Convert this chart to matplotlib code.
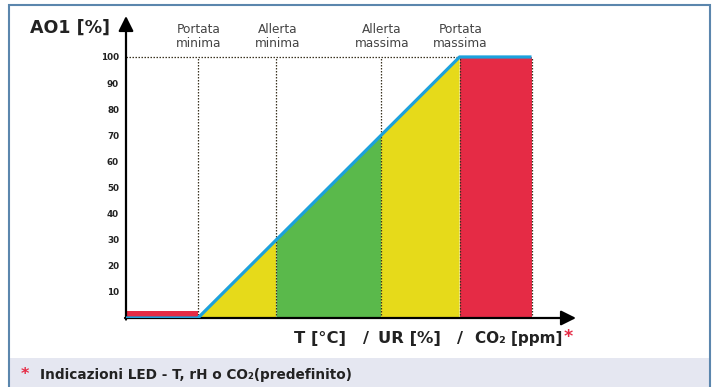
import matplotlib
matplotlib.use("Agg")
import matplotlib.pyplot as plt
from matplotlib.patches import Rectangle

# ---- data ----
y_ticks = [10, 20, 30, 40, 50, 60, 70, 80, 90, 100]
threshold_x = [27.5, 57.5, 97.5, 127.5]          # Portata min, Allerta min, Allerta max, Portata max
threshold_labels = ["Portata\nminima", "Allerta\nminima", "Allerta\nmassima", "Portata\nmassima"]
ao_at_threshold = [0, 30, 70, 100]
end_x = 155
low_bar_height = 2.5
zone_colors = ["#e6da1a", "#5ab94b", "#e6da1a"]
red = "#e52b45"
blue = "#1ca1dc"
dark = "#222222"

W, H = 716, 387
fig = plt.figure(figsize=(W / 100, H / 100), dpi=100)


def fx(px):
    return px / W


def fy(py):
    return 1 - py / H


# outer frame and footer band
fig.patches.append(Rectangle((fx(10), 0), 699 / W, 29 / H, transform=fig.transFigure,
                             facecolor="#e5e7f1", edgecolor="none", zorder=0))
fig.patches.append(Rectangle((fx(9), -0.01), 701 / W, (382 / H) + 0.01, transform=fig.transFigure,
                             facecolor="none", edgecolor="#5b86ad", lw=1.5, zorder=1))

ax = fig.add_axes([126 / W, 69 / H, 450 / W, 302 / H])
ax.set_xlim(0, 172)
ax.set_ylim(0, 115.7)
ax.patch.set_alpha(0)
for s in ax.spines.values():
    s.set_visible(False)

# colored zones under the line
for i in range(3):
    x0, x1 = threshold_x[i], threshold_x[i + 1]
    y0, y1 = ao_at_threshold[i], ao_at_threshold[i + 1]
    ax.fill([x0, x1, x1, x0], [0, 0, y1, y0], color=zone_colors[i], lw=0, zorder=2)
ax.fill([threshold_x[3], end_x, end_x, threshold_x[3]], [0, 0, 100, 100], color=red, lw=0, zorder=2)
ax.fill([0, threshold_x[0], threshold_x[0], 0], [0, 0, low_bar_height, low_bar_height],
        color=red, lw=0, zorder=2)

# dotted guides
dot = dict(color="#3a3320", lw=0.9, ls=(0, (1.2, 1.2)), zorder=3)
ax.plot([0, threshold_x[3]], [100, 100], **dot)
for x in threshold_x + [end_x]:
    ax.plot([x, x], [0, 100], **dot)

# output line
ax.plot([0] + threshold_x[:1] + threshold_x[3:] + [end_x],
        [0, 0, 100, 100], color=blue, lw=2.3, zorder=5, solid_capstyle="butt")

# axes with arrows
arrow = dict(arrowstyle="-|>,head_length=0.9,head_width=0.45", lw=1.6, color="black",
             shrinkA=0, shrinkB=0, mutation_scale=10)
ax.annotate("", xy=(172, 0), xytext=(-0.4, 0), arrowprops=arrow, zorder=4)
ax.annotate("", xy=(0, 115.7), xytext=(0, -0.6), arrowprops=arrow, zorder=4)

ax.set_xticks([])
ax.set_yticks(y_ticks)
ax.set_yticklabels([str(t) for t in y_ticks], fontsize=6.3, fontweight="bold", color=dark)
ax.tick_params(axis="y", length=0, pad=5)

# threshold labels
for x, lab in zip(threshold_x, threshold_labels):
    ax.text(x + 0.4, 102.6, lab, ha="center", va="bottom", fontsize=8.7, color="#444444",
            linespacing=1.1)

# y-axis title
fig.text(fx(30), fy(28), "AO1 [%]", ha="left", va="center", fontsize=12.6,
         fontweight="bold", color=dark)

# x-axis title, built from pieces
xl_y = fy(338.5)
xl = dict(ha="left", va="center", fontsize=11.8, fontweight="bold", color=dark)
fig.text(fx(294), xl_y, "T [°C]", **xl)
fig.text(fx(363), xl_y, "/", **xl)
fig.text(fx(378), xl_y, "UR [%]", **xl)
fig.text(fx(457), xl_y, "/", **xl)
fig.text(fx(562), xl_y, "CO₂ [ppm]", ha="right", va="center", fontsize=11,
         fontweight="bold", color=dark)
fig.text(fx(564), fy(337), "*", ha="left", va="center", fontsize=12.5, fontweight="bold", color=red)

# footer
fig.text(fx(21), fy(375), "*", ha="left", va="center", fontsize=11.5, fontweight="bold", color=red)
fig.text(fx(40), fy(375), "Indicazioni LED - T, rH o CO₂(predefinito)", ha="left",
         va="center", fontsize=9.8, fontweight="bold", color=dark)

fig.savefig("out.png", dpi=100)
